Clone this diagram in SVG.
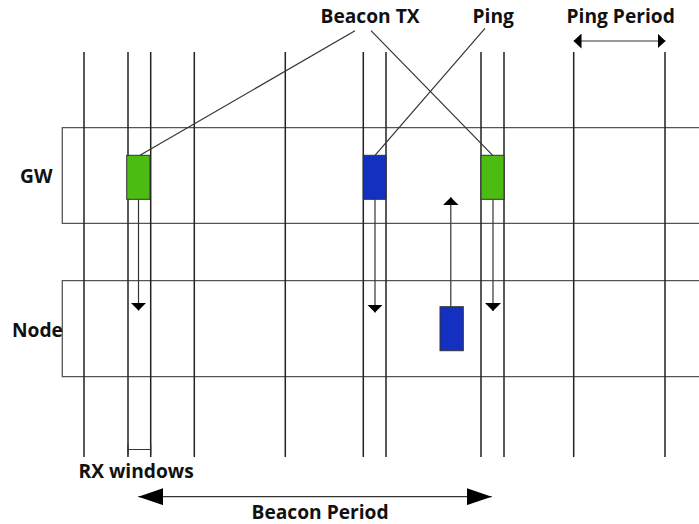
<svg xmlns="http://www.w3.org/2000/svg" width="699" height="524" viewBox="0 0 699 524">
<style>
.lbl{font-family:"Open Sans","Noto Sans","DejaVu Sans",sans-serif;font-weight:bold;font-size:19.2px;fill:#111}
.v{stroke:#222;stroke-width:1.5;fill:none}
.lane{stroke:#555;stroke-width:1.3;fill:none}
.con{stroke:#333;stroke-width:1.2;fill:none}
.green{fill:#4cbb12;stroke:#333;stroke-width:1}
.blue{fill:#1430c0;stroke:#333;stroke-width:1}
</style>
<defs>
<marker id="ah" viewBox="0 0 8 16" refX="8" refY="8" markerWidth="8" markerHeight="16" markerUnits="userSpaceOnUse" orient="auto"><path d="M0,0 L8,8 L0,16 Z" fill="#000"/></marker>
<marker id="big" viewBox="0 0 25 17" refX="25" refY="8.5" markerWidth="25" markerHeight="17" markerUnits="userSpaceOnUse" orient="auto-start-reverse"><path d="M0,0 L25,8.5 L0,17 Z" fill="#000"/></marker>
<marker id="sm" viewBox="0 0 8 15" refX="8" refY="7.5" markerWidth="8" markerHeight="15" markerUnits="userSpaceOnUse" orient="auto-start-reverse"><path d="M0,0 L8,7.5 L0,15 Z" fill="#000"/></marker>
</defs>
<rect width="699" height="524" fill="#fff"/>
<g id="lanes">
<path class="lane" d="M705,127.7 H62.3 V223.3 H705"/>
<path class="lane" d="M705,280.7 H62.3 V376.7 H705"/>
</g>
<g id="timelines">
<path class="v" d="M84,52V457 M128,52V457 M150.7,52V457 M194.3,52V457 M285.3,52V457 M363.3,52V457 M386,52V457 M481,52V457 M504,52V457 M573.7,52V457 M665,52V457"/>
</g>
<g id="labels">
<text id="gw" class="lbl" x="20" y="183">GW</text>
<text id="node" class="lbl" x="12" y="337">Node</text>
<text id="beacontx" class="lbl" x="320.5" y="23.3">Beacon TX</text>
<text id="ping" class="lbl" x="472.5" y="23.3">Ping</text>
<text id="pingperiod" class="lbl" x="566.5" y="23.3">Ping Period</text>
<text id="rxwin" class="lbl" x="78.5" y="478">RX windows</text>
<text id="beaconperiod" class="lbl" x="251.5" y="519">Beacon Period</text>
</g>
<g id="connectors">
<line class="con" x1="355" y1="30.7" x2="140" y2="155.3"/>
<line class="con" x1="371" y1="30.7" x2="492.7" y2="155.3"/>
<line class="con" x1="485" y1="28.3" x2="375" y2="155.3"/>
<line class="con" x1="138.5" y1="199.3" x2="138.5" y2="310.5" marker-end="url(#ah)"/>
<line class="con" x1="375" y1="199.3" x2="375" y2="312.5" marker-end="url(#ah)"/>
<line class="con" x1="493" y1="199.3" x2="493" y2="311" marker-end="url(#ah)"/>
<line class="con" x1="450.8" y1="306.7" x2="450.8" y2="197.3" marker-end="url(#ah)"/>
<line class="con" x1="138.3" y1="496.7" x2="491.7" y2="496.7" marker-start="url(#big)" marker-end="url(#big)"/>
<line class="con" x1="573.5" y1="41" x2="665.5" y2="41" marker-start="url(#sm)" marker-end="url(#sm)"/>
<path class="con" d="M128,449.5 H150.7 M128,444.5 V455 M150.7,444.5 V455"/>
</g>
<g id="beacon1"><rect class="green" x="126.7" y="155.3" width="23.3" height="44"/></g>
<g id="ping1"><rect class="blue" x="363.3" y="155.3" width="22.7" height="44"/></g>
<g id="beacon2"><rect class="green" x="481" y="155.3" width="23" height="44"/></g>
<g id="nodeping"><rect class="blue" x="440" y="306.7" width="23.3" height="44"/></g>
</svg>
